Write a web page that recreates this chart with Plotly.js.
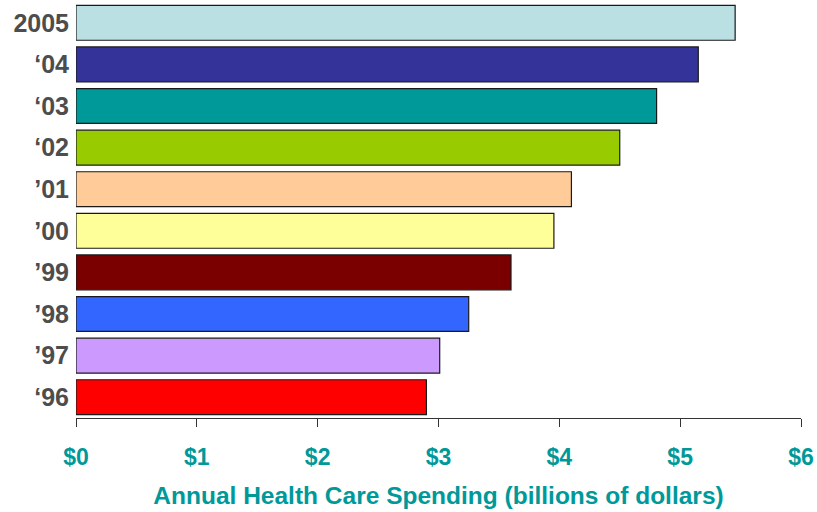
<!DOCTYPE html>
<html>
<head>
<meta charset="utf-8">
<script src="https://cdn.plot.ly/plotly-3.0.1.min.js"></script>
<style>html,body{margin:0;padding:0;background:#fff;}#chart{width:817px;height:512px;}</style>
</head>
<body>
<div id="chart"></div>
<script>
const years = ["\u201896", "\u201997", "\u201998", "\u201999", "\u201900", "\u201901", "\u201802", "\u201803", "\u201804", "2005"];
const spending = [2.90, 3.01, 3.25, 3.60, 3.955, 4.10, 4.50, 4.805, 5.15, 5.455];
const barColors = ["#FF0000", "#CC99FF", "#3366FF", "#7A0000", "#FFFF99", "#FFCC99", "#99CC00", "#009999", "#333399", "#BBE0E3"];
const xTickVals = [0, 1, 2, 3, 4, 5, 6];
const xTickText = ["$0", "$1", "$2", "$3", "$4", "$5", "$6"];

const fontFam = "Arial, 'Liberation Sans', sans-serif";

Plotly.newPlot("chart", [{
  type: "bar",
  orientation: "h",
  y: years,
  x: spending,
  marker: {color: barColors, line: {color: "#1a1a1a", width: 1.2}},
  hoverinfo: "none"
}], {
  width: 817, height: 512,
  margin: {l: 76, r: 16, t: 2, b: 94},
  paper_bgcolor: "#fff", plot_bgcolor: "#fff",
  bargap: 0.16,
  showlegend: false,
  xaxis: {
    range: [0, 6],
    tickvals: xTickVals, ticktext: xTickText,
    showgrid: false, zeroline: false,
    showline: true, linecolor: "#333", linewidth: 1,
    ticks: "outside", ticklen: 8, tickcolor: "#333", tickwidth: 1,
    ticklabelstandoff: 10,
    tickfont: {family: fontFam, size: 23, color: "#009999", weight: "bold"},
    title: {text: "<b>Annual Health Care Spending (billions of dollars)</b>", font: {family: fontFam, size: 24.5, color: "#009999"}, standoff: 18},
    fixedrange: true
  },
  yaxis: {
    type: "category",
    showgrid: false, zeroline: false, showline: false,
    ticks: "", ticklabelstandoff: 6,
    tickfont: {family: fontFam, size: 25, color: "#4D4D4D", weight: "bold"},
    fixedrange: true
  }
}, {displayModeBar: false, staticPlot: true});
</script>
</body>
</html>
